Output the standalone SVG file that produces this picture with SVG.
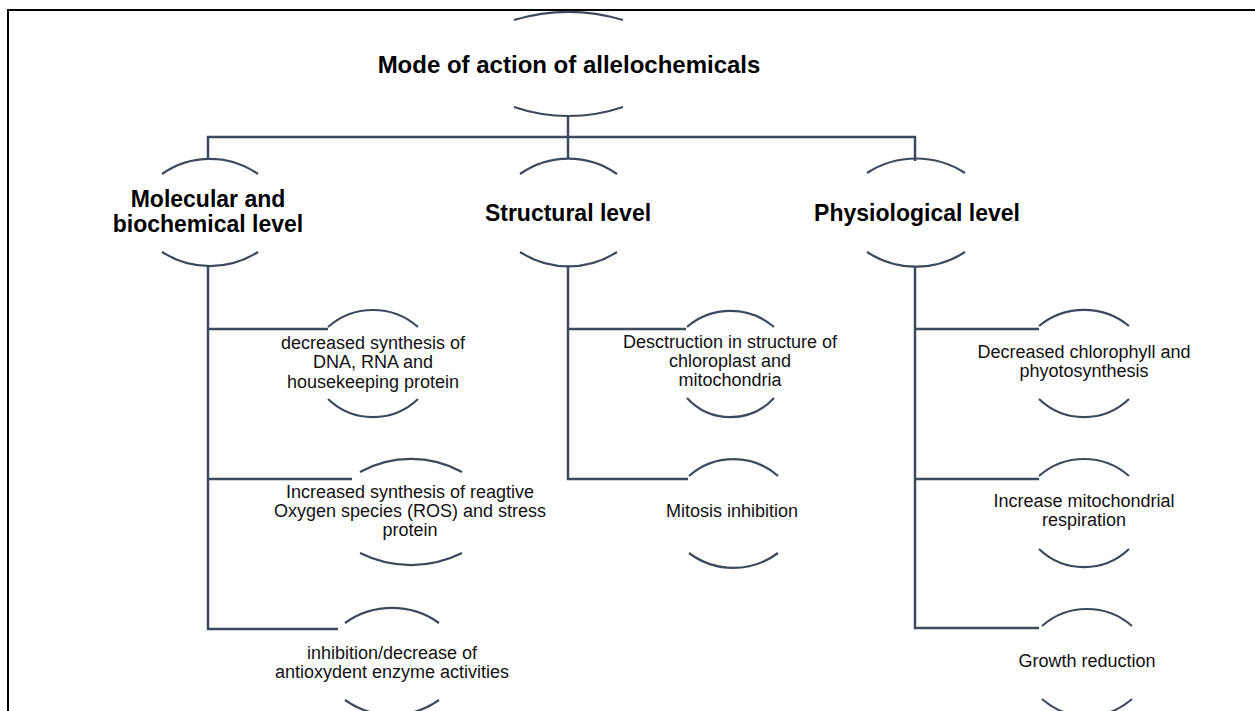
<svg xmlns="http://www.w3.org/2000/svg" width="1255" height="711" viewBox="0 0 1255 711">
<style>
.frame{fill:none;stroke:#000;stroke-width:2}
.conn{fill:none;stroke:#3d4a5d;stroke-width:2.5}
.arc{fill:none;stroke:#3d4a5d;stroke-width:2.2}
.h{font-family:"Liberation Sans",Arial,sans-serif;font-weight:bold;font-size:23px;fill:#000;text-anchor:middle}
.t{font-family:"Liberation Sans",Arial,sans-serif;font-size:18px;fill:#111;text-anchor:middle}
</style>
<rect width="1255" height="711" fill="#fff"/>
<path class="frame" d="M8,711 V10 H1255"/>
<g id="connectors">
<path class="conn" d="M568,116 V137"/>
<path class="conn" d="M208,159 V137 H915 V161"/>
<path class="conn" d="M568,137 V159"/>
<path class="conn" d="M208,266 V629 H338"/>
<path class="conn" d="M208,329 H328"/>
<path class="conn" d="M208,479 H352"/>
<path class="conn" d="M568,266 V479 H688"/>
<path class="conn" d="M568,329 H686"/>
<path class="conn" d="M915,266 V628 H1039"/>
<path class="conn" d="M915,329 H1039"/>
<path class="conn" d="M915,479 H1039"/>
</g>
<g id="node-root">
<path class="arc" d="M514,20 A190,190 0 0 1 623,20"/>
<path class="arc" d="M514,107 A170,170 0 0 0 623,107"/>
<text class="h" x="569" y="73" style="font-size:24px">Mode of action of allelochemicals</text>
</g>
<g id="node-molecular">
<path class="arc" d="M162,174 A84,84 0 0 1 258,174"/>
<path class="arc" d="M162,252 A89,89 0 0 0 258,252"/>
<text class="h" x="208" y="207">Molecular and</text>
<text class="h" x="208" y="232">biochemical level</text>
</g>
<g id="node-structural">
<path class="arc" d="M520,174 A84,84 0 0 1 617,174"/>
<path class="arc" d="M520,252 A89,89 0 0 0 617,252"/>
<text class="h" x="568" y="221">Structural level</text>
</g>
<g id="node-physiological">
<path class="arc" d="M867,173 A90,90 0 0 1 965,173"/>
<path class="arc" d="M867,252 A89,89 0 0 0 965,252"/>
<text class="h" x="917" y="221">Physiological level</text>
</g>
<g id="node-dna">
<path class="arc" d="M328,327 A68,68 0 0 1 418,327"/>
<path class="arc" d="M328,399 A65,65 0 0 0 418,399"/>
<text class="t" x="373" y="349">decreased synthesis of</text>
<text class="t" x="373" y="368">DNA, RNA and</text>
<text class="t" x="373" y="388">housekeeping protein</text>
</g>
<g id="node-ros">
<path class="arc" d="M360,472 A106,106 0 0 1 462,472"/>
<path class="arc" d="M360,553 A114,114 0 0 0 462,553"/>
<text class="t" x="410" y="498">Increased synthesis of reagtive</text>
<text class="t" x="410" y="517">Oxygen species (ROS) and stress</text>
<text class="t" x="410" y="536">protein</text>
</g>
<g id="node-antioxidant">
<path class="arc" d="M345,623 A81,81 0 0 1 439,623"/>
<path class="arc" d="M345,700 A81,81 0 0 0 439,700"/>
<text class="t" x="392" y="659">inhibition/decrease of</text>
<text class="t" x="392" y="678">antioxydent enzyme activities</text>
</g>
<g id="node-chloroplast">
<path class="arc" d="M687,327 A67,67 0 0 1 774,327"/>
<path class="arc" d="M687,398 A59,59 0 0 0 774,398"/>
<text class="t" x="730" y="348">Desctruction in structure of</text>
<text class="t" x="730" y="367">chloroplast and</text>
<text class="t" x="730" y="386">mitochondria</text>
</g>
<g id="node-mitosis">
<path class="arc" d="M689,476 A67,67 0 0 1 778,476"/>
<path class="arc" d="M689,553 A74,74 0 0 0 778,553"/>
<text class="t" x="732" y="517">Mitosis inhibition</text>
</g>
<g id="node-chlorophyll">
<path class="arc" d="M1039,326 A71,71 0 0 1 1129,326"/>
<path class="arc" d="M1039,399 A65,65 0 0 0 1129,399"/>
<text class="t" x="1084" y="358">Decreased chlorophyll and</text>
<text class="t" x="1084" y="377">phyotosynthesis</text>
</g>
<g id="node-respiration">
<path class="arc" d="M1039,476 A68,68 0 0 1 1129,476"/>
<path class="arc" d="M1039,549 A65,65 0 0 0 1129,549"/>
<text class="t" x="1084" y="507">Increase mitochondrial</text>
<text class="t" x="1084" y="526">respiration</text>
</g>
<g id="node-growth">
<path class="arc" d="M1042,626 A68,68 0 0 1 1132,626"/>
<path class="arc" d="M1042,699 A68,68 0 0 0 1132,699"/>
<text class="t" x="1087" y="667">Growth reduction</text>
</g>
</svg>
